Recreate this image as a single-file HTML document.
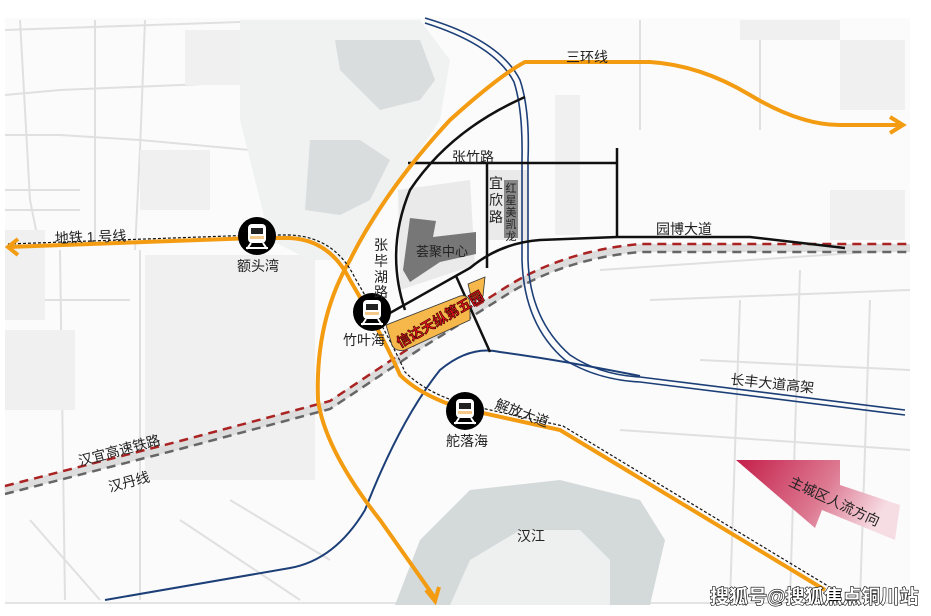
<!DOCTYPE html>
<html><head><meta charset="utf-8"><style>
html,body{margin:0;padding:0;background:#fff;}
svg{display:block;}
text{font-family:"Liberation Sans","Noto Sans CJK SC",sans-serif;fill:#222;}
</style></head><body>
<svg width="931" height="616" viewBox="0 0 931 616" xmlns="http://www.w3.org/2000/svg">
<defs>
<linearGradient id="pk" x1="0" y1="0" x2="1" y2="0.3">
<stop offset="0" stop-color="#c41e4a"/><stop offset="0.6" stop-color="#dd7a92"/><stop offset="1" stop-color="#f6dde4"/>
</linearGradient>
<g id="st">
<circle r="19" fill="#000"/>
<rect x="-9" y="-12" width="18" height="19" rx="4" fill="#fff"/>
<rect x="-6" y="-8" width="12" height="6" fill="#222"/>
<rect x="-7" y="0" width="14" height="3" fill="#f5c98a"/>
<line x1="-6" y1="7" x2="-10" y2="13" stroke="#fff" stroke-width="2"/>
<line x1="6" y1="7" x2="10" y2="13" stroke="#fff" stroke-width="2"/>
<line x1="-11" y1="12" x2="11" y2="12" stroke="#fff" stroke-width="2"/>
</g>
</defs>
<rect x="5" y="18" width="905" height="586" fill="#fbfbfb"/>
<line x1="5" y1="603" x2="910" y2="603" stroke="#ccc"/>
<g stroke="#e0e0e0" stroke-width="2" fill="none">
<path d="M5 30 L240 22"/><path d="M5 95 L60 90 L180 85 L250 82"/><path d="M5 135 L60 135 L140 140 L250 150"/>
<path d="M20 20 L30 200 L40 250"/><path d="M95 20 L95 240"/><path d="M145 20 L140 150 L135 250"/>
<path d="M5 190 L80 190"/><path d="M5 210 L80 210"/><path d="M60 250 L65 600"/>
<path d="M140 250 L140 600"/><path d="M5 300 L130 300"/><path d="M640 20 L640 130"/><path d="M760 20 L760 130"/>
<path d="M600 270 L900 250"/><path d="M650 300 L910 290"/><path d="M740 300 L730 600"/><path d="M800 270 L790 600"/>
<path d="M870 300 L860 600"/><path d="M620 430 L910 450"/><path d="M700 360 L910 370"/>
<path d="M30 520 L100 600"/><path d="M180 520 L300 600"/><path d="M230 500 L330 560"/>
</g>
<g fill="#f0f0f0">
<rect x="145" y="255" width="170" height="225"/>
<rect x="185" y="30" width="60" height="55"/>
<rect x="140" y="150" width="70" height="60"/>
<rect x="5" y="230" width="40" height="90"/>
<rect x="5" y="330" width="70" height="80"/>
<rect x="830" y="190" width="75" height="50"/>
<rect x="840" y="40" width="65" height="70"/>
<rect x="740" y="20" width="100" height="20"/>
<rect x="555" y="95" width="25" height="140"/>
</g>
<path d="M240 20 L420 20 L450 60 L440 120 L400 180 L370 230 L345 260 L310 260 L270 240 L255 180 L240 120 Z" fill="#f0f2f2"/>
<path d="M335 40 L420 40 L435 80 L420 100 L380 110 L360 90 L340 70 Z" fill="#dadddd"/>
<path d="M310 140 L360 140 L390 160 L370 200 L340 215 L305 210 Z" fill="#dadddd"/>
<path d="M395 605 L420 540 L470 490 L560 480 L640 500 L665 540 L650 605 Z" fill="#d4d9d9"/>
<path d="M450 605 L470 560 L520 530 L580 530 L610 560 L610 605 Z" fill="#eef0f0"/>
<path d="M398 190 L470 180 L475 265 L400 290 Z" fill="#eaeaea"/>
<rect x="488" y="170" width="40" height="70" fill="#eaeaea"/>
<path d="M410 218 L436 221 L433 237 L476 232 L476 254 L440 262 L410 282 L403 270 Z" fill="#777"/>
<rect x="504" y="180" width="14" height="58" fill="#888"/>
<path d="M5 490 L180 445 L330 405 L420 345 L500 295 Q560 255 640 248 L910 248" fill="none" stroke="#ddd" stroke-width="8"/>
<path d="M5 486 L180 441 L330 401 L420 341 L500 291 Q560 251 640 244 L910 244" fill="none" stroke="#a22" stroke-width="2.5" stroke-dasharray="9,6"/>
<path d="M5 494 L180 449 L330 409 L420 349 L500 299 Q560 259 640 252 L910 252" fill="none" stroke="#666" stroke-width="2.5" stroke-dasharray="9,6"/>
<g fill="none" stroke="#1d3f78" stroke-width="1.6">
<path d="M425 18 Q500 40 520 80 Q530 110 528 160 L528 260 Q530 320 570 355 Q600 375 640 377 L905 410"/>
<path d="M425 23 Q495 45 514 82 Q523 110 522 160 L522 260 Q524 325 565 360 Q598 380 640 382 L905 415"/>
</g>
<path d="M105 600 L290 568 Q335 560 365 510 Q400 420 440 370 Q470 345 500 352 Q560 360 640 376" fill="none" stroke="#1d3f78" stroke-width="2"/>
<g fill="none" stroke="#111" stroke-width="2.5">
<path d="M408 163 L617 163"/><path d="M617 148 L617 238"/><path d="M487 163 L487 268"/>
<path d="M381 318 L470 268 Q500 243 540 240 L617 237 L750 237 L845 248"/>
<path d="M525 97 Q450 130 410 190 Q385 250 405 310"/>
<path d="M456 276 L490 352"/>
</g>
<path d="M435 598 L380 520 Q325 450 318 400 Q315 320 350 260 Q385 190 450 120 Q500 75 525 62 L650 62 Q700 65 750 95 Q800 125 840 125 L900 125" fill="none" stroke="#f39c12" stroke-width="4"/>
<path d="M890 117 L903 125 L890 133" fill="none" stroke="#f39c12" stroke-width="4"/>
<path d="M426 590 L435 601 L439 587" fill="none" stroke="#f39c12" stroke-width="4"/>
<path d="M8 247 L255 238 L290 238 Q330 240 350 280 Q385 340 400 375 Q420 395 460 408 L560 430 L825 590" fill="none" stroke="#f39c12" stroke-width="4"/>
<path d="M8 244 L255 235 L290 235 Q335 237 355 278 Q390 338 405 372 Q425 392 463 404 L563 426 L828 586" fill="none" stroke="#111" stroke-width="1.2" stroke-dasharray="3,2"/>
<path d="M18 239 L8 247 L18 255" fill="none" stroke="#f39c12" stroke-width="4"/>
<path d="M386 325 L460 296 Q470 294 470 305 L470 320 L405 350 Q395 352 392 345 Z" fill="#f6b84a" stroke="#333" stroke-width="0.8"/>
<path d="M468 284 L485 277 L483 296 L472 301 Z" fill="#f6b84a" stroke="#333" stroke-width="0.8"/>
<text x="0" y="0" font-size="14" font-weight="bold" style="fill:#e0101a;stroke:#300;stroke-width:0.6" transform="translate(400 348) rotate(-30)">信达天纵第五园</text>
<use href="#st" x="257" y="236"/>
<use href="#st" x="372" y="312"/>
<use href="#st" x="465" y="411"/>
<path d="M736 460 L840 460 L840 485 L900 505 L895 540 L822 510 L815 528 Z" fill="url(#pk)"/>
<g font-size="14">
<text x="566" y="62">三环线</text>
<text x="55" y="243" transform="rotate(-2 55 243)">地铁 1 号线</text>
<text x="237" y="271">额头湾</text>
<text x="343" y="345">竹叶海</text>
<text x="446" y="446">舵落海</text>
<text x="452" y="162">张竹路</text>
<text x="416" y="256" font-size="13">荟聚中心</text>
<text x="656" y="234">园博大道</text>
<text x="730" y="384" transform="rotate(6 730 384)">长丰大道高架</text>
<text x="494" y="408" transform="rotate(20 494 408)">解放大道</text>
<text x="80" y="466" transform="rotate(-15 80 466)">汉宜高速铁路</text>
<text x="110" y="492" transform="rotate(-15 110 492)">汉丹线</text>
<text x="517" y="541">汉江</text>
<text x="788" y="485" transform="rotate(25 788 485)">主城区人流方向</text>
</g>
<g font-size="14" text-anchor="middle">
<text x="381" y="250">张</text><text x="381" y="266">毕</text><text x="381" y="282">湖</text><text x="381" y="297">路</text>
<text x="496" y="188">宜</text><text x="496" y="205">欣</text><text x="496" y="222">路</text>
</g>
<g font-size="11" text-anchor="middle">
<text x="511" y="192">红</text><text x="511" y="204">星</text><text x="511" y="216">美</text><text x="511" y="228">凯</text><text x="511" y="240">龙</text>
</g>
<text x="710" y="603" font-size="19" font-weight="bold" style="fill:#fff;stroke:#000;stroke-width:1.2;paint-order:stroke">搜狐号@搜狐焦点铜川站</text>
</svg>
</body></html>
